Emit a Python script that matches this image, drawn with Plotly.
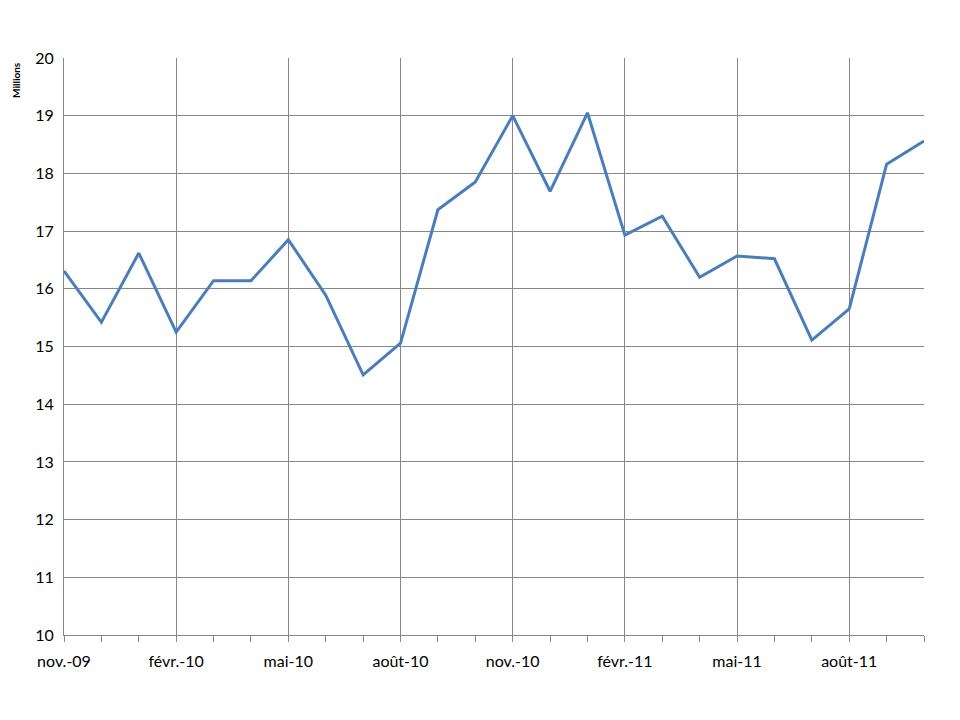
import plotly.graph_objects as go

months = ["nov.-09", "déc.-09", "janv.-10", "févr.-10", "mars-10", "avr.-10", "mai-10", "juin-10",
          "juil.-10", "août-10", "sept.-10", "oct.-10", "nov.-10", "déc.-10", "janv.-11", "févr.-11",
          "mars-11", "avr.-11", "mai-11", "juin-11", "juil.-11", "août-11", "sept.-11", "oct.-11"]
values = [16.31, 15.42, 16.62, 15.25, 16.14, 16.14, 16.85, 15.89, 14.51, 15.06, 17.37, 17.85,
          19.00, 17.69, 19.05, 16.93, 17.26, 16.20, 16.57, 16.52, 15.11, 15.65, 18.16, 18.56]

idx = list(range(len(months)))
label_idx = idx[::3]
label_text = [months[i] for i in label_idx]

fig = go.Figure()
fig.add_trace(go.Scatter(x=idx, y=values, mode="lines",
                         line=dict(color="#4a7ebb", width=3), hoverinfo="skip"))

font = "Lato, 'Open Sans', sans-serif"
fig.update_layout(
    width=960, height=720,
    margin=dict(l=56, r=44, t=50, b=93),
    paper_bgcolor="white", plot_bgcolor="white",
    showlegend=False,
    font=dict(family=font, size=16, color="black"),
    xaxis=dict(range=[0, 23], tickmode="array", tickvals=label_idx, ticktext=label_text,
               showgrid=True, gridcolor="#878787", gridwidth=1,
               showline=True, linecolor="#878787", linewidth=1,
               ticks="outside", ticklen=6, tickcolor="#878787",
               minor=dict(tickmode="linear", tick0=0, dtick=1, ticks="outside", ticklen=6,
                          tickcolor="#878787", showgrid=False),
               zeroline=False, tickfont=dict(size=16), ticklabelstandoff=6),
    yaxis=dict(range=[10, 20], dtick=1, showgrid=True, gridcolor="#878787", gridwidth=1,
               showline=True, linecolor="#878787", linewidth=1, zeroline=False,
               ticks="", tickfont=dict(size=16), ticklabelstandoff=6),
    annotations=[dict(text="<b>Millions</b>", textangle=-90, xref="paper", yref="paper",
                      x=(16 - 64) / 860, y=(635 - 80) / 577, xanchor="center", yanchor="middle",
                      showarrow=False, font=dict(size=10, family=font))],
)
fig.write_html("out.html")
